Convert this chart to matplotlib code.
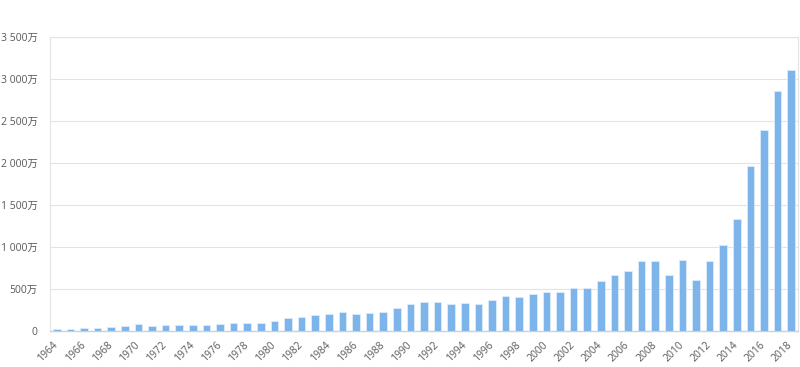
import matplotlib
matplotlib.use("Agg")
import matplotlib.pyplot as plt
import matplotlib.transforms as mtransforms
import numpy as np

plt.rcParams['font.family'] = ['Open Sans', 'Noto Sans CJK SC', 'DejaVu Sans']

years = list(range(1964, 2019))
values = [24, 24, 36, 36, 48, 60, 83, 60, 71, 71, 71, 71, 83, 92, 99, 99,
          123, 155, 167, 187, 199, 222, 199, 210, 230, 274,
          321, 341, 349, 325, 337, 325, 369, 417, 401, 437,
          468, 468, 512, 512, 599, 667, 718, 830, 830, 663,
          849, 611, 830, 1027, 1330, 1964, 2393, 2861, 3107]
y_ticks = [0, 500, 1000, 1500, 2000, 2500, 3000, 3500]
y_tick_labels = ['0', '500万', '1 000万', '1 500万', '2 000万', '2 500万', '3 000万', '3 500万']
x_tick_labels = [str(y) for y in years[::2]]

fig = plt.figure(figsize=(8, 3.67), dpi=100)
ax = fig.add_axes([0.0625, 0.098, 0.935, 0.801])

x = np.arange(len(years))
ax.bar(x, values, width=0.55, color='#7DB5EB', edgecolor='#DDEBF9', linewidth=0.6, zorder=3)

ax.set_xlim(-0.5, len(years) - 0.5)
ax.set_ylim(0, 3500)
ax.set_yticks(y_ticks)
ax.set_yticklabels(y_tick_labels)
ax.set_xticks(x[::2])
ax.set_xticklabels(x_tick_labels, rotation=45, ha='right', rotation_mode='anchor')

ax.grid(axis='y', color='#E3E3E3', linewidth=0.8, zorder=0)
ax.tick_params(axis='both', length=0, labelsize=7.5, labelcolor='#595959')
ax.tick_params(axis='y', pad=9)
ax.tick_params(axis='x', pad=6)

offset = mtransforms.ScaledTranslation(-3 / 72, 0, fig.dpi_scale_trans)
for lab in ax.get_xticklabels():
    lab.set_transform(lab.get_transform() + offset)

for s in ['top', 'right', 'left']:
    ax.spines[s].set_color('#E3E3E3')
    ax.spines[s].set_linewidth(0.8)
ax.spines['bottom'].set_color('#D0D0D0')
ax.spines['bottom'].set_linewidth(1.0)

fig.savefig('out.png', dpi=100)
